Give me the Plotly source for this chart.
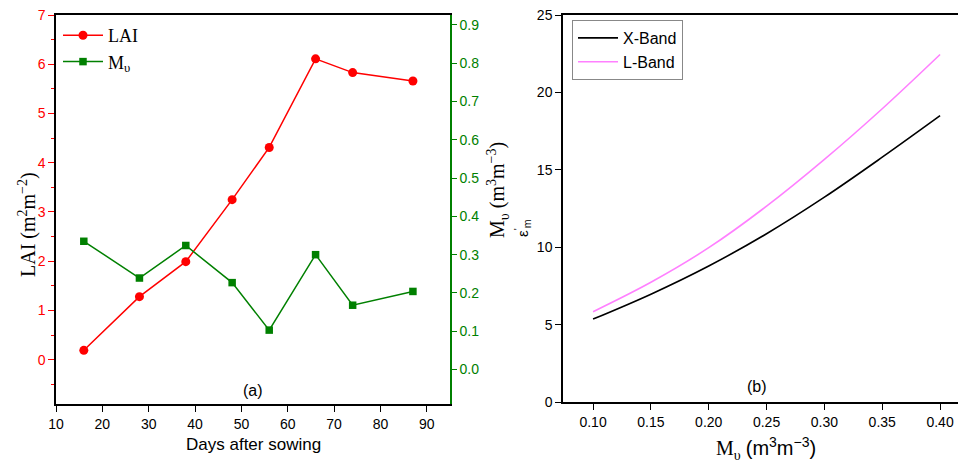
import plotly.graph_objects as go

# ---- data ----
days = [16, 28, 38, 48, 56, 66, 74, 87]
lai = [0.19, 1.28, 1.99, 3.25, 4.31, 6.11, 5.83, 5.66]
mv = [0.335, 0.239, 0.324, 0.227, 0.103, 0.300, 0.168, 0.204]

mv_grid = [0.10, 0.15, 0.20, 0.25, 0.30, 0.35, 0.40]
eps_xband = [5.37, 6.98, 8.80, 10.88, 13.24, 15.82, 18.50]
eps_lband = [5.85, 7.75, 9.98, 12.66, 15.68, 18.95, 22.45]

days_ticks = [10, 20, 30, 40, 50, 60, 70, 80, 90]
lai_ticks = [0, 1, 2, 3, 4, 5, 6, 7]
mv_ticks = [0.0, 0.1, 0.2, 0.3, 0.4, 0.5, 0.6, 0.7, 0.8, 0.9]
mvx_ticks = [0.10, 0.15, 0.20, 0.25, 0.30, 0.35, 0.40]
eps_ticks = [0, 5, 10, 15, 20, 25]

W, H = 958, 471
SANS = "Liberation Sans, Arial, sans-serif"
SERIF = "Liberation Serif, Times New Roman, serif"
RED = "#ff0000"
GREEN = "#008000"
PINK = "#ff80ff"

def px(x):
    return x / W

def py(y):
    return 1 - y / H

fig = go.Figure()

fig.add_trace(go.Scatter(x=days, y=lai, mode="lines+markers", name="LAI",
                         line=dict(color=RED, width=1.5),
                         marker=dict(symbol="circle", size=9, color=RED),
                         xaxis="x", yaxis="y", legend="legend"))
fig.add_trace(go.Scatter(x=days, y=mv, mode="lines+markers", name="M<sub>υ</sub>",
                         line=dict(color=GREEN, width=1.5),
                         marker=dict(symbol="square", size=7.5, color=GREEN),
                         xaxis="x", yaxis="y2", legend="legend"))

fig.add_trace(go.Scatter(x=mv_grid, y=eps_xband, mode="lines", name="X-Band",
                         line=dict(color="black", width=1.6, shape="spline"),
                         xaxis="x3", yaxis="y3", legend="legend2"))
fig.add_trace(go.Scatter(x=mv_grid, y=eps_lband, mode="lines", name="L-Band",
                         line=dict(color=PINK, width=1.6, shape="spline"),
                         xaxis="x3", yaxis="y3", legend="legend2"))

left_dom = [px(56), px(450)]
left_ydom = [py(404), py(15)]
right_dom = [px(563), 1.0]
right_ydom = [py(402.3), py(15)]

tickfont = dict(family=SANS, size=14, color="black")

fig.update_layout(
    width=W, height=H,
    margin=dict(l=0, r=0, t=0, b=0, autoexpand=False),
    paper_bgcolor="white", plot_bgcolor="white",
    xaxis=dict(domain=left_dom, range=[10, 95], tickvals=days_ticks, automargin=False,
               showline=True, linecolor="black", linewidth=1.5, mirror=True,
               ticks="outside", ticklen=6, tickcolor="black", tickwidth=1.2,
               showgrid=False, zeroline=False, tickfont=tickfont, anchor="y"),
    yaxis=dict(domain=left_ydom, range=[-0.9, 7], tickvals=lai_ticks, automargin=False,
               showline=True, linecolor="black", linewidth=1.5,
               ticks="outside", ticklen=6, tickcolor=RED, tickwidth=1.2,
               minor=dict(dtick=0.5, ticks="outside", ticklen=3, tickcolor=RED, tickwidth=1),
               showgrid=False, zeroline=False,
               tickfont=dict(family=SANS, size=14, color=RED), anchor="x"),
    yaxis2=dict(domain=left_ydom, range=[-0.09, 0.926], tickvals=mv_ticks, automargin=False,
                tickformat=".1f", overlaying="y", side="right", anchor="x",
                showline=True, linecolor=GREEN, linewidth=1.5,
                ticks="outside", ticklen=5, tickcolor=GREEN, tickwidth=1.2,
                showgrid=False, zeroline=False,
                tickfont=dict(family=SANS, size=14, color=GREEN)),
    xaxis3=dict(domain=right_dom, range=[0.074, 0.4155], tickvals=mvx_ticks, automargin=False,
                tickformat=".2f",
                showline=True, linecolor="black", linewidth=1.5, mirror=True,
                ticks="outside", ticklen=6, tickcolor="black", tickwidth=1.2,
                showgrid=False, zeroline=False, tickfont=tickfont, anchor="y3"),
    yaxis3=dict(domain=right_ydom, range=[0, 25], tickvals=eps_ticks, automargin=False,
                showline=True, linecolor="black", linewidth=1.5,
                ticks="outside", ticklen=6, tickcolor="black", tickwidth=1.2,
                showgrid=False, zeroline=False, tickfont=tickfont, anchor="x3"),
    legend=dict(x=px(58), y=py(17), xanchor="left", yanchor="top",
                bgcolor="rgba(0,0,0,0)", borderwidth=0,
                font=dict(family=SERIF, size=18, color="black"),
                itemwidth=40, tracegroupgap=0),
    legend2=dict(x=px(572), y=py(20), xanchor="left", yanchor="top",
                 bgcolor="white", bordercolor="#888888", borderwidth=1,
                 font=dict(family=SANS, size=16, color="black"),
                 itemwidth=40),
    showlegend=True,
)

annos = [
    dict(x=px(253), y=py(390), text="(a)", font=dict(family=SANS, size=16, color="black")),
    dict(x=px(757), y=py(386), text="(b)", font=dict(family=SANS, size=16, color="black")),
    dict(x=px(253), y=py(444), text="Days after sowing",
         font=dict(family=SANS, size=17, color="black")),
    dict(x=px(766), y=py(448),
         text="M<sub>υ</sub> <span style='font-family:Liberation Sans'>(m<sup>3</sup>m<sup>−3</sup>)</span>",
         font=dict(family=SERIF, size=20, color="black")),
    dict(x=px(27), y=py(225), textangle=-90,
         text="LAI (m<sup>2</sup>m<sup>−2</sup>)",
         font=dict(family=SERIF, size=20, color="black")),
    dict(x=px(498), y=py(190), textangle=-90,
         text="M<sub>υ</sub> (m<sup>3</sup>m<sup>−3</sup>)",
         font=dict(family=SERIF, size=20, color="black")),
    dict(x=px(522), y=py(228), textangle=-90,
         text="ε<sup>'</sup><sub>m</sub>",
         font=dict(family=SANS, size=15, color="black")),
]
for a in annos:
    a.update(xref="paper", yref="paper", showarrow=False, xanchor="center", yanchor="middle")
    fig.add_annotation(**a)

fig.write_html("out.html")
